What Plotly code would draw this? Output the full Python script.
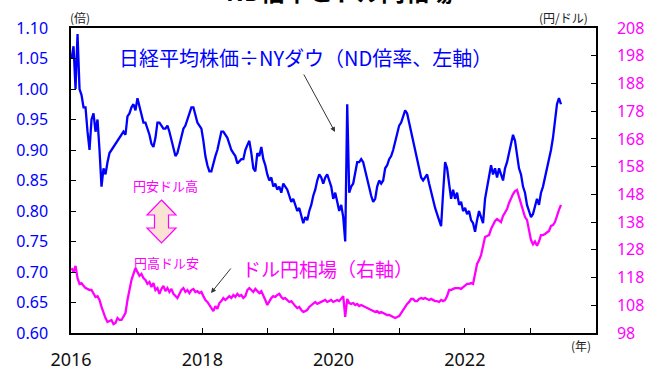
import pandas as pd
import plotly.graph_objects as go

# ---- data ----
start_date = "2016-01-04"
end_date = "2023-06-20"

nd_ratio = [
    1.05, 1.07, 1.00, 1.09, 1.00, 0.99, 0.97, 0.97, 0.93, 0.90,
    0.95, 0.96, 0.93, 0.95, 0.90, 0.84, 0.87, 0.86, 0.88, 0.895,
    0.90, 0.905, 0.91, 0.915, 0.92, 0.925, 0.93, 0.925, 0.955, 0.96,
    0.97, 0.975, 0.965, 0.985, 0.97, 0.96, 0.945, 0.945, 0.935, 0.925,
    0.91, 0.905, 0.92, 0.945, 0.945, 0.94, 0.935, 0.935, 0.94, 0.93,
    0.915, 0.90, 0.89, 0.895, 0.91, 0.925, 0.935, 0.94, 0.95, 0.96,
    0.97, 0.97, 0.955, 0.945, 0.94, 0.935, 0.915, 0.89, 0.875, 0.865,
    0.865, 0.88, 0.89, 0.90, 0.915, 0.93, 0.93, 0.925, 0.92, 0.91,
    0.90, 0.895, 0.89, 0.878, 0.882, 0.885, 0.885, 0.90, 0.908, 0.915,
    0.895, 0.87, 0.865, 0.895, 0.89, 0.905, 0.885, 0.875, 0.86, 0.85,
    0.855, 0.84, 0.845, 0.835, 0.84, 0.83, 0.845, 0.84, 0.835, 0.825,
    0.815, 0.82, 0.81, 0.80, 0.805, 0.79, 0.78, 0.79, 0.785, 0.80,
    0.81, 0.825, 0.835, 0.85, 0.86, 0.855, 0.845, 0.855, 0.86, 0.85,
    0.84, 0.82, 0.83, 0.815, 0.80, 0.81, 0.79, 0.75, 0.975, 0.83,
    0.84, 0.845, 0.865, 0.88, 0.88, 0.885, 0.88, 0.865, 0.855, 0.84,
    0.825, 0.815, 0.82, 0.84, 0.85, 0.845, 0.85, 0.87, 0.875, 0.885,
    0.89, 0.90, 0.915, 0.93, 0.94, 0.945, 0.955, 0.965, 0.96, 0.945,
    0.93, 0.91, 0.895, 0.88, 0.865, 0.855, 0.85, 0.855, 0.86, 0.845,
    0.83, 0.815, 0.805, 0.795, 0.785, 0.775, 0.83, 0.88, 0.87, 0.84,
    0.82, 0.835, 0.82, 0.83, 0.81, 0.815, 0.80, 0.805, 0.795, 0.80,
    0.785, 0.78, 0.766, 0.785, 0.80, 0.79, 0.78, 0.82, 0.84, 0.86,
    0.875, 0.86, 0.87, 0.855, 0.87, 0.86, 0.85, 0.87, 0.88, 0.895,
    0.91, 0.925, 0.915, 0.89, 0.87, 0.86, 0.84, 0.83, 0.81, 0.80,
    0.79, 0.795, 0.81, 0.82, 0.81, 0.83, 0.84, 0.855, 0.87, 0.88,
    0.90, 0.92, 0.95, 0.975, 0.985, 0.975,
]

usdjpy = [
    121.4, 120.0, 122.2, 117.8, 115.7, 116.0, 115.0, 114.2, 113.9, 113.5,
    113.5, 112.1, 111.0, 111.3, 109.9, 107.4, 105.2, 103.4, 102.0, 102.3,
    102.7, 101.2, 101.6, 103.4, 102.7, 102.7, 104.1, 105.2, 109.9, 113.5,
    117.1, 119.3, 121.4, 120.0, 118.6, 119.3, 117.8, 117.1, 115.7, 116.4,
    114.6, 116.0, 113.5, 114.2, 112.1, 113.9, 115.0, 113.1, 114.2, 112.8,
    113.9, 112.1, 111.3, 110.6, 112.1, 113.5, 114.2, 112.8, 113.5, 112.4,
    113.5, 113.9, 112.8, 113.1, 112.4, 112.8, 111.3, 109.9, 109.2, 108.1,
    106.7, 105.9, 107.7, 106.7, 108.8, 109.5, 110.6, 109.9, 110.6, 111.3,
    110.6, 111.7, 111.0, 112.1, 111.3, 111.7, 110.6, 111.3, 113.5, 114.2,
    113.5, 112.8, 113.9, 113.1, 112.4, 113.1, 111.7, 109.9, 108.1, 109.5,
    110.6, 111.3, 111.0, 111.7, 112.1, 111.0, 110.3, 110.6, 109.9, 109.2,
    109.5, 108.5, 107.7, 107.0, 107.4, 106.3, 105.6, 105.9, 106.3, 107.4,
    108.1, 108.5, 109.2, 108.5, 108.8, 109.2, 109.5, 109.9, 109.2, 109.5,
    109.9, 109.2, 109.5, 109.9, 109.5, 110.6, 111.3, 103.8, 110.3, 108.8,
    108.5, 108.8, 108.1, 108.5, 107.7, 108.1, 107.7, 107.4, 107.0, 106.7,
    106.3, 105.9, 105.6, 105.9, 105.2, 105.6, 105.2, 104.9, 104.5, 104.5,
    104.1, 103.8, 103.4, 103.8, 104.1, 105.2, 106.3, 107.7, 108.5, 109.2,
    110.3, 110.3, 109.5, 109.5, 110.3, 110.6, 110.3, 110.6, 110.3, 109.9,
    110.3, 109.9, 109.5, 109.5, 109.2, 109.9, 109.5, 109.9, 111.3, 113.5,
    113.5, 113.9, 114.2, 114.2, 114.2, 113.9, 114.6, 115.3, 115.7, 115.7,
    116.0, 115.7, 118.9, 122.9, 124.3, 126.1, 129.4, 132.6, 133.0, 133.3,
    135.5, 137.3, 138.4, 139.1, 138.4, 138.0, 140.2, 141.3, 142.7, 144.9,
    146.7, 148.1, 149.2, 149.6, 147.1, 144.5, 141.6, 139.8, 138.8, 135.5,
    131.5, 130.0, 131.0, 129.5, 131.0, 133.3, 133.3, 133.7, 134.1, 134.8,
    136.6, 136.9, 138.0, 140.6, 142.4, 144.2,
]

year_ticks = ["2016-01-01", "2017-01-01", "2018-01-01", "2019-01-01", "2020-01-01",
              "2021-01-01", "2022-01-01", "2023-01-01", "2024-01-01"]
year_labels = ["2016", "", "2018", "", "2020", "", "2022", "", ""]
left_ticks = [0.60, 0.65, 0.70, 0.75, 0.80, 0.85, 0.90, 0.95, 1.00, 1.05, 1.10]
right_ticks = [98, 108, 118, 128, 138, 148, 158, 168, 178, 188, 198, 208]

# ---- figure ----
W, H = 654, 372
ML, MR, MT, MB = 71, 58, 28, 39
PW, PH = W - ML - MR, H - MT - MB


def px(x):
    return (x - ML) / PW


def py(y):
    return (H - MB - y) / PH


nd_dates = pd.date_range(start_date, end_date, periods=len(nd_ratio))
fx_dates = pd.date_range(start_date, end_date, periods=len(usdjpy))

JP = "Noto Sans CJK JP"
NUM = "Noto Sans, Noto Sans CJK JP"
BLUE = "#0000FF"
MAG = "#FF00FF"

fig = go.Figure()
fig.add_trace(go.Scatter(x=fx_dates, y=usdjpy, mode="lines", yaxis="y2",
                         line=dict(color=MAG, width=2.3), showlegend=False))
fig.add_trace(go.Scatter(x=nd_dates, y=nd_ratio, mode="lines",
                         line=dict(color=BLUE, width=2.3), showlegend=False))

fig.update_layout(
    template="none",
    width=W, height=H,
    margin=dict(l=ML, r=MR, t=MT, b=MB, autoexpand=False),
    paper_bgcolor="white", plot_bgcolor="white",
    xaxis=dict(type="date", range=["2016-01-01", "2024-01-01"], automargin=False,
               tickvals=year_ticks, ticktext=year_labels,
               ticks="inside", ticklen=5, tickcolor="black", tickwidth=1,
               showline=True, linecolor="black", linewidth=1.5, mirror=True,
               showgrid=False, zeroline=False, ticklabelstandoff=10,
               tickfont=dict(family=NUM, size=18, color="#111")),
    yaxis=dict(range=[0.60, 1.10], tickvals=left_ticks, tickformat=".2f", automargin=False,
               ticks="inside", ticklen=5, tickcolor="black",
               showline=True, linecolor="black", linewidth=1.5,
               showgrid=False, zeroline=False, ticklabelstandoff=18,
               tickfont=dict(family=NUM, size=16, color=BLUE)),
    yaxis2=dict(range=[98, 208], tickvals=right_ticks, overlaying="y", side="right",
                automargin=False,
                ticks="inside", ticklen=5, tickcolor="black",
                showline=True, linecolor="black", linewidth=1.5,
                showgrid=False, zeroline=False, ticklabelstandoff=16,
                tickfont=dict(family=NUM, size=16, color=MAG)),
)

ann = []
# partially visible title at the top (cut off in the reference as well)
ann.append(dict(text="<b>ND倍率とドル円相場</b>", x=px(339), y=py(-10), xref="paper", yref="paper",
                showarrow=False, font=dict(family=JP, size=24, color="black"),
                xanchor="center", yanchor="middle"))
ann.append(dict(text="(倍)", x=px(80), y=py(17), xref="paper", yref="paper", showarrow=False,
                font=dict(family=JP, size=12, color="#222"), xanchor="center", yanchor="middle"))
ann.append(dict(text="(円/ドル)", x=px(563), y=py(17), xref="paper", yref="paper", showarrow=False,
                font=dict(family=JP, size=12, color="#222"), xanchor="center", yanchor="middle"))
ann.append(dict(text="(年)", x=px(581), y=py(345), xref="paper", yref="paper", showarrow=False,
                font=dict(family=JP, size=12, color="#222"), xanchor="center", yanchor="middle"))
ann.append(dict(text="日経平均株価÷NYダウ（ND倍率、左軸）", x=px(117), y=py(57), xref="paper", yref="paper",
                showarrow=False, font=dict(family=JP, size=20, color=BLUE),
                xanchor="left", yanchor="middle"))
ann.append(dict(text="ドル円相場（右軸）", x=px(240), y=py(268), xref="paper", yref="paper",
                showarrow=False, font=dict(family=JP, size=19, color=MAG),
                xanchor="left", yanchor="middle"))
ann.append(dict(text="円安ドル高", x=px(165), y=py(185), xref="paper", yref="paper",
                showarrow=False, font=dict(family=JP, size=13, color=MAG),
                xanchor="center", yanchor="middle"))
ann.append(dict(text="円高ドル安", x=px(166), y=py(262), xref="paper", yref="paper",
                showarrow=False, font=dict(family=JP, size=13, color=MAG),
                xanchor="center", yanchor="middle"))
# pointer arrows (tail offsets in pixels)
ann.append(dict(text="", x=px(335), y=py(132), xref="paper", yref="paper",
                ax=303 - 335, ay=73 - 132, axref="pixel", ayref="pixel",
                showarrow=True, arrowhead=2, arrowsize=1, arrowwidth=1, arrowcolor="#333"))
ann.append(dict(text="", x=px(211), y=py(293), xref="paper", yref="paper",
                ax=232 - 211, ay=267 - 293, axref="pixel", ayref="pixel",
                showarrow=True, arrowhead=2, arrowsize=1, arrowwidth=1, arrowcolor="#333"))
fig.update_layout(annotations=ann)

# up-down double arrow
pts = [(161.5, 200), (176, 215), (168.5, 215), (168.5, 228), (176, 228), (161.5, 243),
       (147, 228), (154.5, 228), (154.5, 215), (147, 215)]
path = "M " + " L ".join(f"{px(a):.5f},{py(b):.5f}" for a, b in pts) + " Z"
fig.add_shape(type="path", path=path, xref="paper", yref="paper",
              fillcolor="#FBE3D3", line=dict(color=MAG, width=1.2), layer="above")

fig.write_html("out.html", config={"displayModeBar": False},
               post_script="document.body.style.margin='0';")
